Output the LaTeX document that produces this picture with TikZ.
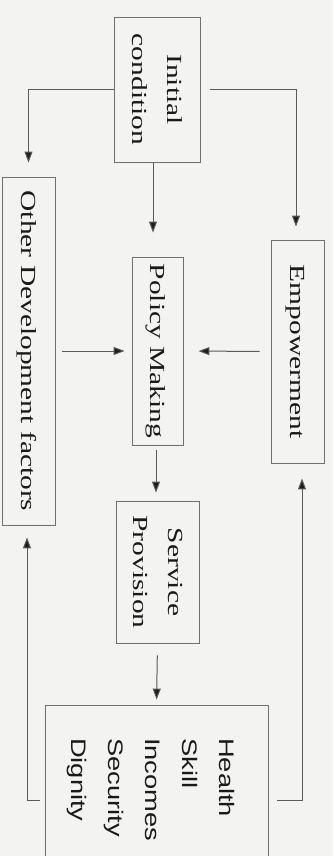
\documentclass[tikz,border=0pt]{standalone}
\usepackage{fontspec}
\setmainfont{Liberation Serif}
\newfontfamily\outfont{Liberation Sans}
\usetikzlibrary{arrows.meta}
\definecolor{bgc}{HTML}{F3F3F1}
\definecolor{linec}{HTML}{5A5A5A}
\definecolor{headc}{HTML}{1E1E1E}
\definecolor{boxc}{HTML}{707070}
\definecolor{txtc}{HTML}{1A1A1A}
\newcommand{\rtxt}[1]{\rotatebox{-90}{\scalebox{1.37}[1]{\fontsize{21.5}{35}\selectfont\begin{tabular}{@{}c@{}}#1\end{tabular}}}}
\newcommand{\otxt}[1]{\rotatebox{-90}{\scalebox{1.3}[1]{\fontsize{21}{37}\selectfont\outfont\begin{tabular}{@{}l@{}}#1\end{tabular}}}}
\begin{document}
\begin{tikzpicture}[x=1pt,y=-1pt,
  box/.style={draw=boxc,line width=0.9pt,inner sep=0pt,text=txtc},
  arr/.style={draw=linec,line width=1pt,-{Triangle[length=11pt,width=8pt,fill=headc]}},
  ln/.style={draw=linec,line width=1pt}]
\fill[bgc] (0,0) rectangle (333,856);
\useasboundingbox (0,0) rectangle (333,856);
\begin{scope}
\clip (0,0) rectangle (333,856);
\node[box,minimum width=86pt,minimum height=145pt] (ic) at (157,89.5) {\rtxt{Initial\\condition}};
\node[box,minimum width=53pt,minimum height=348pt] (odf) at (28.5,351) {\rtxt{Other Development factors}};
\node[box,minimum width=51pt,minimum height=188pt] (pm) at (157.5,351) {\rtxt{Policy Making}};
\node[box,minimum width=53pt,minimum height=223pt] (emp) at (297.5,351.5) {\rtxt{Empowerment}};
\node[box,minimum width=83pt,minimum height=142pt] (sp) at (157.5,572) {\rtxt{Service\\Provision}};
\node[box,minimum width=223pt,minimum height=195pt] (out) at (156.5,802.5) {};
\node[inner sep=0pt,anchor=north east,text=txtc] (outtxt) at (246,738) {\otxt{Health\\Skill\\Incomes\\Security\\Dignity}};
\end{scope}
% connectors
\draw[arr,shorten >=14pt] (ic.west) -| (odf.north);
\draw[arr,shorten <=10pt,shorten >=13pt] (ic.east) -| ([xshift=-1.5pt]emp.north);
\draw[arr,shorten >=24pt] ([xshift=-4pt]ic.south) -- ([xshift=-4.5pt]pm.north);
\draw[arr,shorten <=7pt,shorten >=7pt] (odf.east) -- (pm.west);
\draw[arr,shorten <=11pt,shorten >=15pt] (emp.west) -- (pm.east);
\draw[arr,shorten <=5pt,shorten >=8pt] ([xshift=-1.5pt]pm.south) -- ([xshift=-1.5pt]sp.north);
\draw[arr,shorten <=12pt,shorten >=5pt] (sp.south) -- (out.north);
\draw[arr,shorten <=5pt,shorten >=12pt] ([yshift=2.5pt]out.west) -| ([xshift=-1.5pt]odf.south);
\draw[arr,shorten <=9pt,shorten >=15pt] ([yshift=2.5pt]out.east) -| ([xshift=4.5pt]emp.south);
\end{tikzpicture}
\end{document}
